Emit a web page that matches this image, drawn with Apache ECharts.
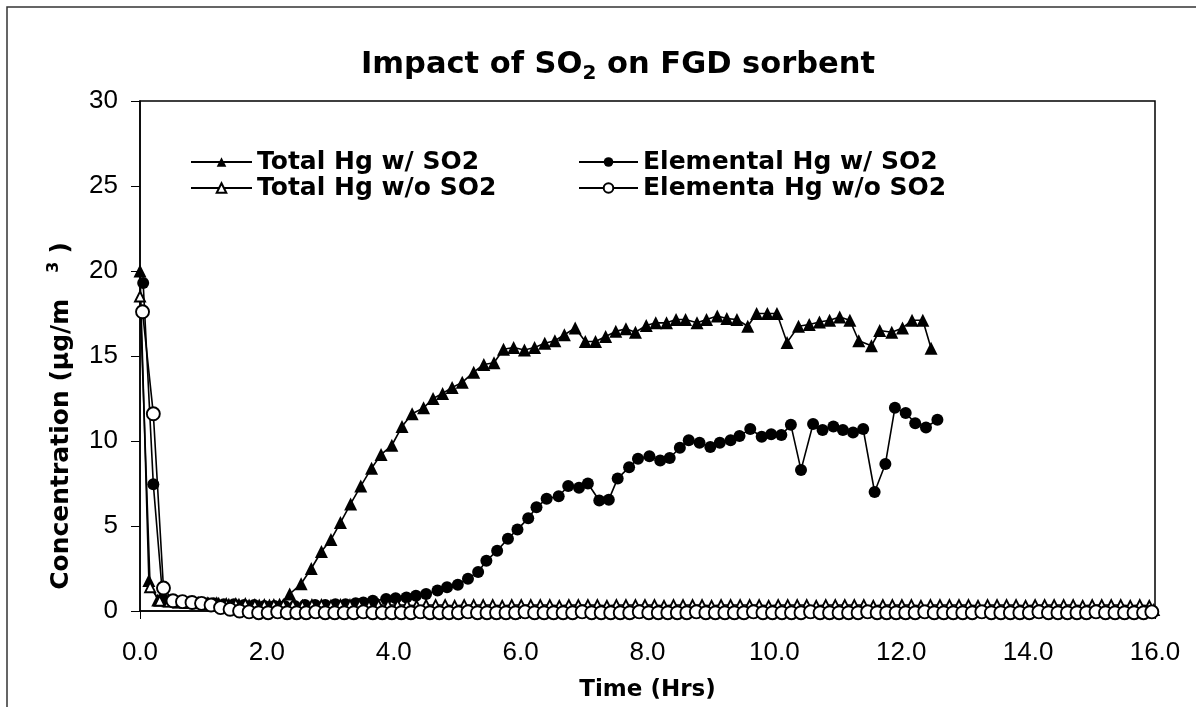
<!DOCTYPE html>
<html>
<head>
<meta charset="utf-8">
<script src="https://cdn.jsdelivr.net/npm/echarts@6/dist/echarts.min.js"></script>
<style>
  html, body { margin: 0; padding: 0; background: #fff; }
  #chart { width: 1196px; height: 707px; }
</style>
</head>
<body>
<div id="chart"></div>
<script>
// Hg breakthrough on FGD sorbent, with and without SO2 in the gas.
// Times in hours, concentrations in µg/m3.

const xTicks = [0, 2, 4, 6, 8, 10, 12, 14, 16];
const yTicks = [0, 5, 10, 15, 20, 25, 30];

const seriesNames = [
  'Total Hg w/ SO2',
  'Elemental Hg w/ SO2',
  'Total Hg w/o SO2',
  'Elementa Hg w/o SO2'
];

const totalWithTime = [
  0.00, 0.14, 0.28, 0.44, 0.60, 0.76, 0.92, 1.08, 1.24, 1.40, 1.56, 1.72, 1.88, 2.04, 2.20,
  2.36, 2.54, 2.70, 2.86, 3.01, 3.16, 3.32, 3.48, 3.65, 3.80, 3.97, 4.13, 4.29, 4.47, 4.62,
  4.77, 4.92, 5.08, 5.26, 5.42, 5.58, 5.73, 5.89, 6.06, 6.22, 6.38, 6.54, 6.69, 6.86, 7.02,
  7.18, 7.34, 7.50, 7.66, 7.81, 7.98, 8.13, 8.30, 8.45, 8.60, 8.78, 8.93, 9.10, 9.25, 9.41,
  9.58, 9.72, 9.89, 10.04, 10.20, 10.38, 10.55, 10.71, 10.87, 11.03, 11.19, 11.33, 11.53, 11.66, 11.85,
  12.02, 12.17, 12.34, 12.47
];
const totalWithValue = [
  20.0, 1.8, 0.65, 0.6, 0.55, 0.5, 0.5, 0.45, 0.45, 0.4, 0.4, 0.35, 0.35, 0.35, 0.4,
  1.0, 1.6, 2.5, 3.5, 4.2, 5.2, 6.3, 7.35, 8.4, 9.2, 9.75, 10.85, 11.6, 11.95, 12.5,
  12.8, 13.15, 13.45, 14.05, 14.5, 14.6, 15.4, 15.5, 15.35, 15.5, 15.75, 15.9, 16.25, 16.65, 15.85,
  15.85, 16.15, 16.45, 16.6, 16.4, 16.8, 16.95, 16.95, 17.15, 17.15, 16.95, 17.15, 17.35, 17.2, 17.15,
  16.75, 17.5, 17.5, 17.5, 15.8, 16.75, 16.85, 17.0, 17.1, 17.3, 17.1, 15.9, 15.6, 16.5, 16.4,
  16.65, 17.1, 17.1, 15.45
];

const elementalWithTime = [
  0.05, 0.21, 0.36, 0.52, 0.68, 0.84, 1.00, 1.16, 1.32, 1.48, 1.64, 1.80, 1.96, 2.12, 2.28,
  2.44, 2.60, 2.76, 2.92, 3.08, 3.24, 3.40, 3.52, 3.67, 3.88, 4.03, 4.20, 4.35, 4.51, 4.69,
  4.84, 5.01, 5.17, 5.33, 5.46, 5.63, 5.80, 5.95, 6.12, 6.25, 6.41, 6.60, 6.75, 6.92, 7.06,
  7.24, 7.39, 7.53, 7.71, 7.85, 8.03, 8.20, 8.35, 8.51, 8.65, 8.82, 8.99, 9.14, 9.31, 9.45,
  9.62, 9.80, 9.95, 10.11, 10.26, 10.42, 10.61, 10.76, 10.93, 11.08, 11.24, 11.40, 11.58, 11.75, 11.90,
  12.07, 12.22, 12.39, 12.57
];
const elementalWithValue = [
  19.3, 7.45, 0.7, 0.55, 0.5, 0.5, 0.45, 0.45, 0.4, 0.4, 0.35, 0.35, 0.3, 0.3, 0.3,
  0.3, 0.35, 0.35, 0.35, 0.4, 0.4, 0.45, 0.5, 0.6, 0.7, 0.75, 0.8, 0.9, 1.0, 1.2,
  1.4, 1.55, 1.9, 2.3, 2.95, 3.55, 4.25, 4.8, 5.45, 6.1, 6.6, 6.75, 7.35, 7.25, 7.5,
  6.5, 6.55, 7.8, 8.45, 8.95, 9.1, 8.85, 9.0, 9.6, 10.05, 9.9, 9.65, 9.9, 10.05, 10.3,
  10.7, 10.25, 10.4, 10.35, 10.95, 8.3, 11.0, 10.65, 10.85, 10.65, 10.5, 10.7, 7.0, 8.65, 11.95,
  11.65, 11.05, 10.8, 11.25
];

const totalWithoutTime = [
  0.00, 0.16, 0.31, 0.46, 0.61, 0.76, 0.91, 1.06, 1.21, 1.36, 1.51, 1.66, 1.81, 1.96, 2.11,
  2.26, 2.41, 2.56, 2.71, 2.86, 3.01, 3.16, 3.31, 3.46, 3.61, 3.76, 3.91, 4.06, 4.21, 4.36,
  4.51, 4.66, 4.81, 4.96, 5.11, 5.26, 5.41, 5.56, 5.71, 5.86, 6.01, 6.16, 6.31, 6.46, 6.61,
  6.76, 6.91, 7.06, 7.21, 7.36, 7.51, 7.66, 7.81, 7.96, 8.11, 8.26, 8.41, 8.56, 8.71, 8.86,
  9.01, 9.16, 9.31, 9.46, 9.61, 9.76, 9.91, 10.06, 10.21, 10.36, 10.51, 10.66, 10.81, 10.96, 11.11,
  11.26, 11.41, 11.56, 11.71, 11.86, 12.01, 12.16, 12.31, 12.46, 12.61, 12.76, 12.91, 13.06, 13.21, 13.36,
  13.51, 13.66, 13.81, 13.96, 14.11, 14.26, 14.41, 14.56, 14.71, 14.86, 15.01, 15.16, 15.31, 15.46, 15.61,
  15.76, 15.91, 15.98
];
const totalWithoutValue = [
  18.5, 1.4, 0.6, 0.55, 0.5, 0.5, 0.45, 0.45, 0.45, 0.4, 0.4, 0.4, 0.35, 0.35, 0.35,
  0.35, 0.35, 0.3, 0.35, 0.35, 0.3, 0.35, 0.35, 0.35, 0.3, 0.35, 0.35, 0.35, 0.35, 0.3,
  0.35, 0.35, 0.35, 0.3, 0.35, 0.35, 0.35, 0.35, 0.3, 0.35, 0.35, 0.35, 0.35, 0.35, 0.3,
  0.35, 0.35, 0.35, 0.35, 0.3, 0.35, 0.35, 0.35, 0.35, 0.35, 0.3, 0.35, 0.35, 0.35, 0.35,
  0.3, 0.35, 0.35, 0.35, 0.35, 0.35, 0.3, 0.35, 0.35, 0.35, 0.35, 0.3, 0.35, 0.35, 0.35,
  0.35, 0.35, 0.3, 0.35, 0.35, 0.35, 0.35, 0.3, 0.35, 0.35, 0.35, 0.35, 0.35, 0.3, 0.35,
  0.35, 0.35, 0.35, 0.3, 0.35, 0.35, 0.35, 0.35, 0.35, 0.3, 0.35, 0.35, 0.35, 0.35, 0.3,
  0.35, 0.3, 0.05
];

const elementalWithoutTime = [
  0.04, 0.21, 0.37, 0.52, 0.67, 0.82, 0.97, 1.12, 1.27, 1.42, 1.57, 1.72, 1.87, 2.02, 2.17,
  2.32, 2.47, 2.62, 2.77, 2.92, 3.07, 3.22, 3.37, 3.52, 3.67, 3.82, 3.97, 4.12, 4.27, 4.42,
  4.57, 4.72, 4.87, 5.02, 5.17, 5.32, 5.47, 5.62, 5.77, 5.92, 6.07, 6.22, 6.37, 6.52, 6.67,
  6.82, 6.97, 7.12, 7.27, 7.42, 7.57, 7.72, 7.87, 8.02, 8.17, 8.32, 8.47, 8.62, 8.77, 8.92,
  9.07, 9.22, 9.37, 9.52, 9.67, 9.82, 9.97, 10.12, 10.27, 10.42, 10.57, 10.72, 10.87, 11.02, 11.17,
  11.32, 11.47, 11.62, 11.77, 11.92, 12.07, 12.22, 12.37, 12.52, 12.67, 12.82, 12.97, 13.12, 13.27, 13.42,
  13.57, 13.72, 13.87, 14.02, 14.17, 14.32, 14.47, 14.62, 14.77, 14.92, 15.07, 15.22, 15.37, 15.52, 15.67,
  15.82, 15.95
];
const elementalWithoutValue = [
  17.6, 11.6, 1.35, 0.6, 0.55, 0.5, 0.45, 0.35, 0.2, 0.1, 0.0, -0.05, -0.1, -0.1, -0.05,
  -0.1, -0.1, -0.1, -0.05, -0.1, -0.1, -0.1, -0.1, -0.05, -0.1, -0.1, -0.1, -0.1, -0.1, -0.05,
  -0.1, -0.1, -0.1, -0.1, -0.05, -0.1, -0.1, -0.1, -0.1, -0.1, -0.05, -0.1, -0.1, -0.1, -0.1,
  -0.1, -0.05, -0.1, -0.1, -0.1, -0.1, -0.1, -0.05, -0.1, -0.1, -0.1, -0.1, -0.1, -0.05, -0.1,
  -0.1, -0.1, -0.1, -0.1, -0.05, -0.1, -0.1, -0.1, -0.1, -0.1, -0.05, -0.1, -0.1, -0.1, -0.1,
  -0.1, -0.05, -0.1, -0.1, -0.1, -0.1, -0.1, -0.05, -0.1, -0.1, -0.1, -0.1, -0.1, -0.05, -0.1,
  -0.1, -0.1, -0.1, -0.1, -0.05, -0.1, -0.1, -0.1, -0.1, -0.1, -0.05, -0.1, -0.1, -0.1, -0.1,
  -0.1, -0.05
];

// Tick labels use a plain Arial-metric face; the bold headings use a wider face.
const FONT = '"Liberation Sans", Arial, Helvetica, sans-serif';
const BOLD = '"DejaVu Sans", Verdana, sans-serif';
const INK = '#000';

function pairs(times, values) {
  return times.map((t, i) => [t, values[i]]);
}

function lineSeries(name, times, values, symbol, size, filled) {
  return {
    name: name,
    type: 'line',
    data: pairs(times, values),
    symbol: symbol,
    symbolSize: size,
    showAllSymbol: true,
    clip: false,
    smooth: false,
    lineStyle: { color: INK, width: 1.6 },
    itemStyle: filled
      ? { color: INK, borderColor: INK, borderWidth: 0 }
      : { color: '#fff', borderColor: INK, borderWidth: 1.9 },
    emphasis: { disabled: true }
  };
}

const legendText = { fontFamily: BOLD, fontSize: 25, fontWeight: 'bold', color: INK, lineHeight: 26 };

const chart = echarts.init(document.getElementById('chart'), null, { renderer: 'canvas' });

chart.setOption({
  animation: false,
  backgroundColor: '#fff',
  textStyle: { fontFamily: FONT, color: INK },
  title: {
    left: 613,
    top: 41,
    textAlign: 'center',
    text: '{a|Impact of SO}{b|2}{a| on FGD sorbent}',
    textStyle: {
      rich: {
        a: { fontFamily: BOLD, fontSize: 30.5, fontWeight: 'bold', color: INK, lineHeight: 38 },
        b: { fontFamily: BOLD, fontSize: 20, fontWeight: 'bold', color: INK, lineHeight: 20, verticalAlign: 'bottom' }
      }
    }
  },
  legend: [
    {
      left: 185, top: 144, orient: 'vertical', itemGap: 0,
      itemWidth: 61, itemHeight: 12,
      data: [seriesNames[0], seriesNames[2]],
      textStyle: legendText,
      selectedMode: false
    },
    {
      left: 573, top: 144, orient: 'vertical', itemGap: 0,
      itemWidth: 59, itemHeight: 12,
      data: [seriesNames[1], seriesNames[3]],
      textStyle: legendText,
      selectedMode: false
    }
  ],
  grid: {
    left: 140, top: 101, width: 1015, height: 511,
    show: true, borderColor: INK, borderWidth: 1.5, backgroundColor: 'transparent'
  },
  xAxis: {
    type: 'value',
    min: xTicks[0], max: xTicks[xTicks.length - 1], interval: xTicks[1] - xTicks[0],
    name: 'Time (Hrs)',
    nameLocation: 'middle',
    nameGap: 68,
    nameTextStyle: { fontFamily: BOLD, fontSize: 23, fontWeight: 'bold', color: INK },
    axisLine: { show: true, onZero: false, lineStyle: { color: INK, width: 1.5 } },
    axisTick: { show: true, inside: false, length: 8, lineStyle: { color: INK, width: 1 } },
    axisLabel: {
      fontFamily: FONT, fontSize: 26, color: INK, margin: 29,
      formatter: v => v.toFixed(1)
    },
    splitLine: { show: false }
  },
  yAxis: {
    type: 'value',
    min: yTicks[0], max: yTicks[yTicks.length - 1], interval: yTicks[1] - yTicks[0],
    axisLine: { show: true, lineStyle: { color: INK, width: 1.5 } },
    axisTick: { show: true, inside: false, length: 9, lineStyle: { color: INK, width: 1 } },
    axisLabel: { fontFamily: FONT, fontSize: 26, color: INK, margin: 22 },
    splitLine: { show: false }
  },
  graphic: [
    {
      type: 'rect', silent: true, z: -1,
      shape: { x: 7, y: 7, width: 1300, height: 900 },
      style: { fill: 'transparent', stroke: '#333', lineWidth: 1.5 }
    },
    {
      type: 'text', silent: true,
      x: 61, y: 416, rotation: Math.PI / 2,
      style: {
        text: '{a|Concentration (µg/m}{s|3}{a|)}',
        align: 'center', verticalAlign: 'middle',
        textAlign: 'center', textVerticalAlign: 'middle',
        rich: {
          a: { fontFamily: BOLD, fontSize: 25, fontWeight: 'bold', fill: INK, color: INK, lineHeight: 30 },
          s: { fontFamily: BOLD, fontSize: 16, fontWeight: 'bold', fill: INK, color: INK, lineHeight: 16,
               verticalAlign: 'top', padding: [0, 8, 0, 26] }
        }
      }
    }
  ],
  series: [
    lineSeries(seriesNames[0], totalWithTime, totalWithValue, 'triangle', 13, true),
    lineSeries(seriesNames[1], elementalWithTime, elementalWithValue, 'circle', 12, true),
    lineSeries(seriesNames[2], totalWithoutTime, totalWithoutValue, 'triangle', 10, false),
    lineSeries(seriesNames[3], elementalWithoutTime, elementalWithoutValue, 'circle', 13, false)
  ]
});
</script>
</body>
</html>
